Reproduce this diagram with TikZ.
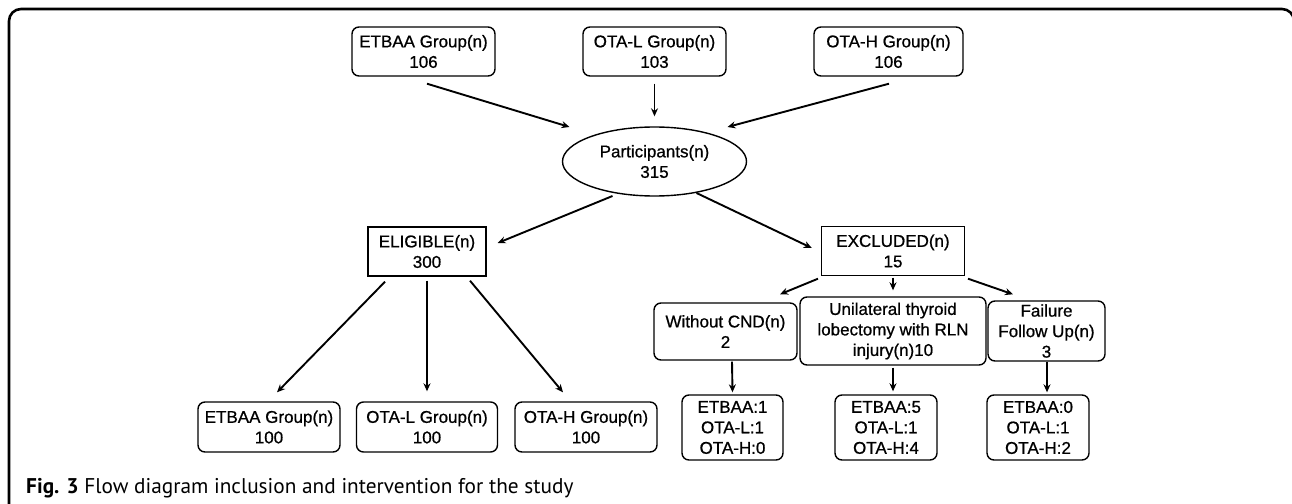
\documentclass[tikz,border=0pt]{standalone}
\usepackage{fontspec}
\setmainfont{Liberation Sans}
\newfontfamily\boxfont{Liberation Sans}[FakeBold=0.8]
\newfontfamily\capfont{PT Sans}
\usetikzlibrary{shapes.geometric,arrows.meta,calc}
\begin{document}
\begin{tikzpicture}[x=1pt,y=-1pt,
  nodefont/.style={font=\boxfont\fontsize{17}{20.5}\selectfont},
  rbox/.style={draw,line width=1.4pt,rounded corners=7pt,align=center,inner sep=0pt,nodefont},
  sbox/.style={draw,line width=1.4pt,align=center,inner sep=0pt,nodefont},
  arr/.style={line width=1.9pt,-{Stealth[length=8pt,width=7pt]}},
]
\useasboundingbox (0,0) rectangle (1292,503);
% frame
\draw[line width=2.6pt,rounded corners=12pt] (9,520) -- (9,9) -- (1294,9) -- (1294,520);

% top row
\node[rbox,minimum width=143pt,minimum height=49pt] (t1) at (423.5,51.5) {ETBAA Group(n)\\106};
\node[rbox,minimum width=143pt,minimum height=49pt] (t2) at (654.5,51.5) {OTA-L Group(n)\\103};
\node[rbox,minimum width=149pt,minimum height=49pt] (t3) at (888.5,51.5) {OTA-H Group(n)\\106};

% participants
\node[draw,ellipse,line width=1.4pt,align=center,inner sep=0pt,nodefont,minimum width=184pt,minimum height=69pt] (part) at (654.5,161.5) {Participants(n)\\315};

% eligible / excluded
\node[sbox,minimum width=118pt,minimum height=49pt] (elig) at (427,251.5) {ELIGIBLE(n)\\300};
\node[sbox,minimum width=143pt,minimum height=49pt] (excl) at (893,251) {EXCLUDED(n)\\15};

% bottom-left groups
\node[rbox,minimum width=142pt,minimum height=50pt] (b1) at (269,427) {ETBAA Group(n)\\100};
\node[rbox,minimum width=141pt,minimum height=50pt] (b2) at (427,427) {OTA-L Group(n)\\100};
\node[rbox,minimum width=142pt,minimum height=50pt] (b3) at (586,427) {OTA-H Group(n)\\100};

% exclusion reasons
\node[rbox,minimum width=143pt,minimum height=57pt] (w) at (725.5,331.5) {Without CND(n)\\2};
\node[rbox,minimum width=186pt,minimum height=68pt] (u) at (893,331) {Unilateral thyroid\\lobectomy with RLN\\injury(n)10};
\node[rbox,minimum width=117pt,minimum height=60pt] (f) at (1046.5,331) {Failure\\Follow Up(n)\\3};

% breakdown boxes
\node[rbox,minimum width=101pt,minimum height=65pt] (c1) at (732.5,427.5) {ETBAA:1\\OTA-L:1\\OTA-H:0};
\node[rbox,minimum width=102pt,minimum height=65pt] (c2) at (886,427.5) {ETBAA:5\\OTA-L:1\\OTA-H:4};
\node[rbox,minimum width=102pt,minimum height=65pt] (c3) at (1038,427.5) {ETBAA:0\\OTA-L:1\\OTA-H:2};

% caption
\node[anchor=base west,inner sep=0pt,font=\capfont\fontsize{21.3}{24}\selectfont] (cap) at (26,493) {\textbf{Fig. 3} Flow diagram inclusion and intervention for the study};

% connectors
\draw[arr] ($(t1.south)+(3.5,7)$) -- ($(part.center)+(-85,-34.5)$);
\draw[arr] ($(t2.south)+(0,7)$) -- ($(part.north)+(0,-10)$);
\draw[arr] ($(t3.south)+(0.5,7)$) -- ($(part.center)+(73,-34.5)$);
\draw[arr] ($(part.center)+(-42,34.5)$) -- ($(elig.east)+(11,-8.5)$);
\draw[arr] ($(part.center)+(42,31.5)$) -- ($(excl.west)+(-9,-3)$);

\draw[arr] ($(elig.south)+(-42,5)$) -- ($(b1.north)+(8,-9)$);
\draw[arr] ($(elig.south)+(0,4)$) -- ($(b2.north)+(0,-10)$);
\draw[arr] ($(elig.south)+(43,4)$) -- ($(b3.north)+(-23,-9)$);

\draw[arr] ($(excl.south)+(-75,2.5)$) -- ($(w.north)+(54.5,-8)$);
\draw[arr] ($(excl.south)+(0,1.5)$) -- ($(u.north)+(0,-6)$);
\draw[arr] ($(excl.south)+(75,2.5)$) -- ($(f.north)+(-33.5,-6)$);

\draw[arr] ($(w.south)+(6.5,1)$) -- ($(c1.north)+(0,-2)$);
\draw[arr] ($(u.south)+(0,2)$) -- ($(c2.north)+(7,-3)$);
\draw[arr] ($(f.south)+(0.5,0)$) -- ($(c3.north)+(9,-2)$);
\end{tikzpicture}
\end{document}
